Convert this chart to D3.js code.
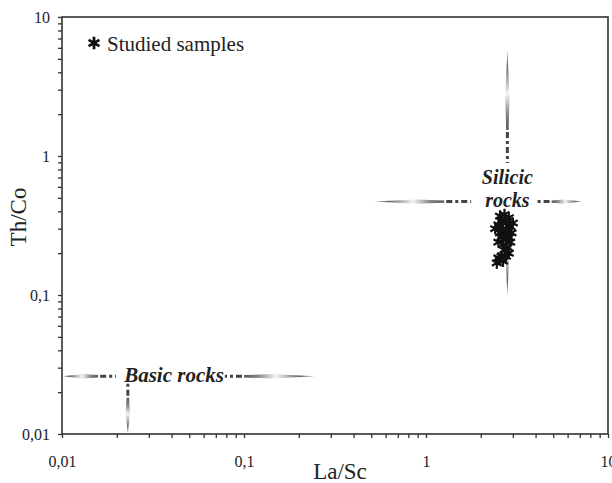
<!DOCTYPE html>
<html>
<head>
<meta charset="utf-8">
<script src="https://cdn.jsdelivr.net/npm/d3@7"></script>
<style>
  body { margin: 0; background: #fff; }
  svg text { font-family: "Liberation Serif", "DejaVu Serif", serif !important; fill: #222; }
</style>
</head>
<body>
<svg id="chart" width="612" height="483"></svg>
<script>
var w = 612, h = 483;

// axis decades and labels
var decades = [0.01, 0.1, 1, 10];
var decadeLabels = ["0,01", "0,1", "1", "10"];

// studied samples (La/Sc, Th/Co)
var laSc = [2.55, 2.7, 2.85, 2.6, 2.75, 2.5, 2.9, 2.65, 2.8, 2.55, 2.95, 2.7, 2.6, 2.85, 2.75, 2.5, 2.9, 2.65, 2.8, 2.7, 2.85, 2.6, 2.75, 2.55, 2.45, 2.65, 2.5, 2.4, 3.0];
var thCo = [0.37, 0.38, 0.36, 0.34, 0.33, 0.32, 0.31, 0.30, 0.29, 0.28, 0.28, 0.27, 0.26, 0.26, 0.25, 0.24, 0.24, 0.23, 0.22, 0.21, 0.20, 0.19, 0.19, 0.18, 0.17, 0.175, 0.185, 0.3, 0.33];

// source fields: name, centre and arm extents
var fieldNames = ["Silicic rocks", "Basic rocks"];
var fieldCentre = [[2.8, 0.47], [0.023, 0.026]];
// arms: [field, axis, tip, dash start, dash end]
var arms = [
  [0, "y", 5.8, 1.54, 0.89],
  [0, "y", 0.098, 0.36, 0.36],
  [0, "x", 0.52, 1.26, 1.77],
  [0, "x", 7.2, 4.9, 4.0],
  [1, "x", 0.01, 0.0158, 0.0198],
  [1, "x", 0.245, 0.1, 0.0785],
  [1, "y", 0.01, 0.0182, 0.0233]
];

var svg = d3.select("#chart");
var x = d3.scaleLog().domain([0.01, 10]).range([62, 608]);
var y = d3.scaleLog().domain([0.01, 10]).range([434, 17]);

var defs = svg.append("defs");

// minor + major ticks
var tickVals = [];
decades.slice(0, 3).forEach(function(d) {
  for (var k = 1; k < 10; k++) tickVals.push(d * k);
});
tickVals.push(10);

var fmt = function(d) {
  var i = decades.indexOf(+d.toPrecision(3));
  return i >= 0 ? decadeLabels[i] : "";
};

var xAxis = svg.append("g")
  .attr("transform", "translate(0,434)")
  .call(d3.axisBottom(x).tickValues(tickVals).tickSize(4).tickFormat(fmt).tickPadding(18));
var yAxis = svg.append("g")
  .attr("transform", "translate(62,0)")
  .call(d3.axisLeft(y).tickValues(tickVals).tickSize(4).tickFormat(fmt).tickPadding(8));

[xAxis, yAxis].forEach(function(a) {
  a.attr("font-family", null);
  a.select(".domain").remove();
  a.selectAll("line").attr("stroke", "#333").attr("stroke-width", 1.3);
  a.selectAll("text").style("font-size", "16px").attr("fill", "#222");
});
yAxis.selectAll("text").attr("dy", "0.35em");

// frame
svg.append("rect")
  .attr("x", 62).attr("y", 17).attr("width", 546).attr("height", 417)
  .attr("fill", "none").attr("stroke", "#333").attr("stroke-width", 1.6);

// axis titles
svg.append("text").attr("x", 340).attr("y", 479).attr("text-anchor", "middle")
  .style("font-size", "23px").text("La/Sc");
svg.append("text").attr("transform", "translate(26,217) rotate(-90)").attr("text-anchor", "middle")
  .style("font-size", "23px").text("Th/Co");

// field arms: shaded spindle plus dashes towards the centre
arms.forEach(function(a, i) {
  var c = fieldCentre[a[0]];
  var cx = x(c[0]), cy = y(c[1]);
  var tip, s, e;
  if (a[1] === "x") {
    tip = [x(a[2]), cy]; s = [x(a[3]), cy]; e = [x(a[4]), cy];
  } else {
    tip = [cx, y(a[2])]; s = [cx, y(a[3])]; e = [cx, y(a[4])];
  }
  var gid = "g" + i;
  var g = defs.append("linearGradient").attr("id", gid)
    .attr("gradientUnits", "userSpaceOnUse")
    .attr("x1", tip[0]).attr("y1", tip[1]).attr("x2", s[0]).attr("y2", s[1]);
  [[0, "#999"], [0.2, "#666"], [0.55, "#f4f4f4"], [0.8, "#888"], [1, "#555"]].forEach(function(st) {
    g.append("stop").attr("offset", st[0]).attr("stop-color", st[1]);
  });
  var dx = s[0] - tip[0], dy = s[1] - tip[1];
  var len = Math.sqrt(dx * dx + dy * dy);
  var ux = dx / len, uy = dy / len, nx = -uy, ny = ux;
  var hw = 2.2;
  var m = [tip[0] + dx * 0.6, tip[1] + dy * 0.6];
  var pts = [tip, [m[0] + nx * hw, m[1] + ny * hw], [s[0] + nx * 1.2, s[1] + ny * 1.2],
             [s[0] - nx * 1.2, s[1] - ny * 1.2], [m[0] - nx * hw, m[1] - ny * hw]];
  svg.append("path").attr("d", "M" + pts.join("L") + "Z").attr("fill", "url(#" + gid + ")");
  if (a[3] !== a[4]) {
    svg.append("line")
      .attr("x1", s[0] + ux * 2).attr("y1", s[1] + uy * 2).attr("x2", e[0]).attr("y2", e[1])
      .attr("stroke", "#444").attr("stroke-width", 3).attr("stroke-dasharray", "6,3,3,3");
  }
});

// field labels
svg.append("text").attr("x", x(fieldCentre[0][0])).attr("y", 184).attr("text-anchor", "middle")
  .style("font-size", "20px").style("font-weight", "bold").style("font-style", "italic").text("Silicic");
svg.append("text").attr("x", x(fieldCentre[0][0])).attr("y", 207).attr("text-anchor", "middle")
  .style("font-size", "20px").style("font-weight", "bold").style("font-style", "italic").text("rocks");
svg.append("text").attr("x", 174).attr("y", 382).attr("text-anchor", "middle")
  .style("font-size", "21px").style("font-weight", "bold").style("font-style", "italic").text(fieldNames[1]);

// samples
var star = d3.symbol().type(d3.symbolAsterisk).size(90);
svg.append("g").selectAll("path")
  .data(laSc.map(function(d, i) { return [d, thCo[i]]; }))
  .enter().append("path")
  .attr("d", star)
  .attr("transform", function(d) { return "translate(" + x(d[0]) + "," + y(d[1]) + ")"; })
  .attr("fill", "none").attr("stroke", "#111").attr("stroke-width", 2.2);

// legend
svg.append("path").attr("d", d3.symbol().type(d3.symbolAsterisk).size(110)).attr("transform", "translate(94,43)")
  .attr("fill", "none").attr("stroke", "#111").attr("stroke-width", 2.8);
svg.append("text").attr("x", 107).attr("y", 51).style("font-size", "21px").text("Studied samples");
</script>
</body>
</html>
